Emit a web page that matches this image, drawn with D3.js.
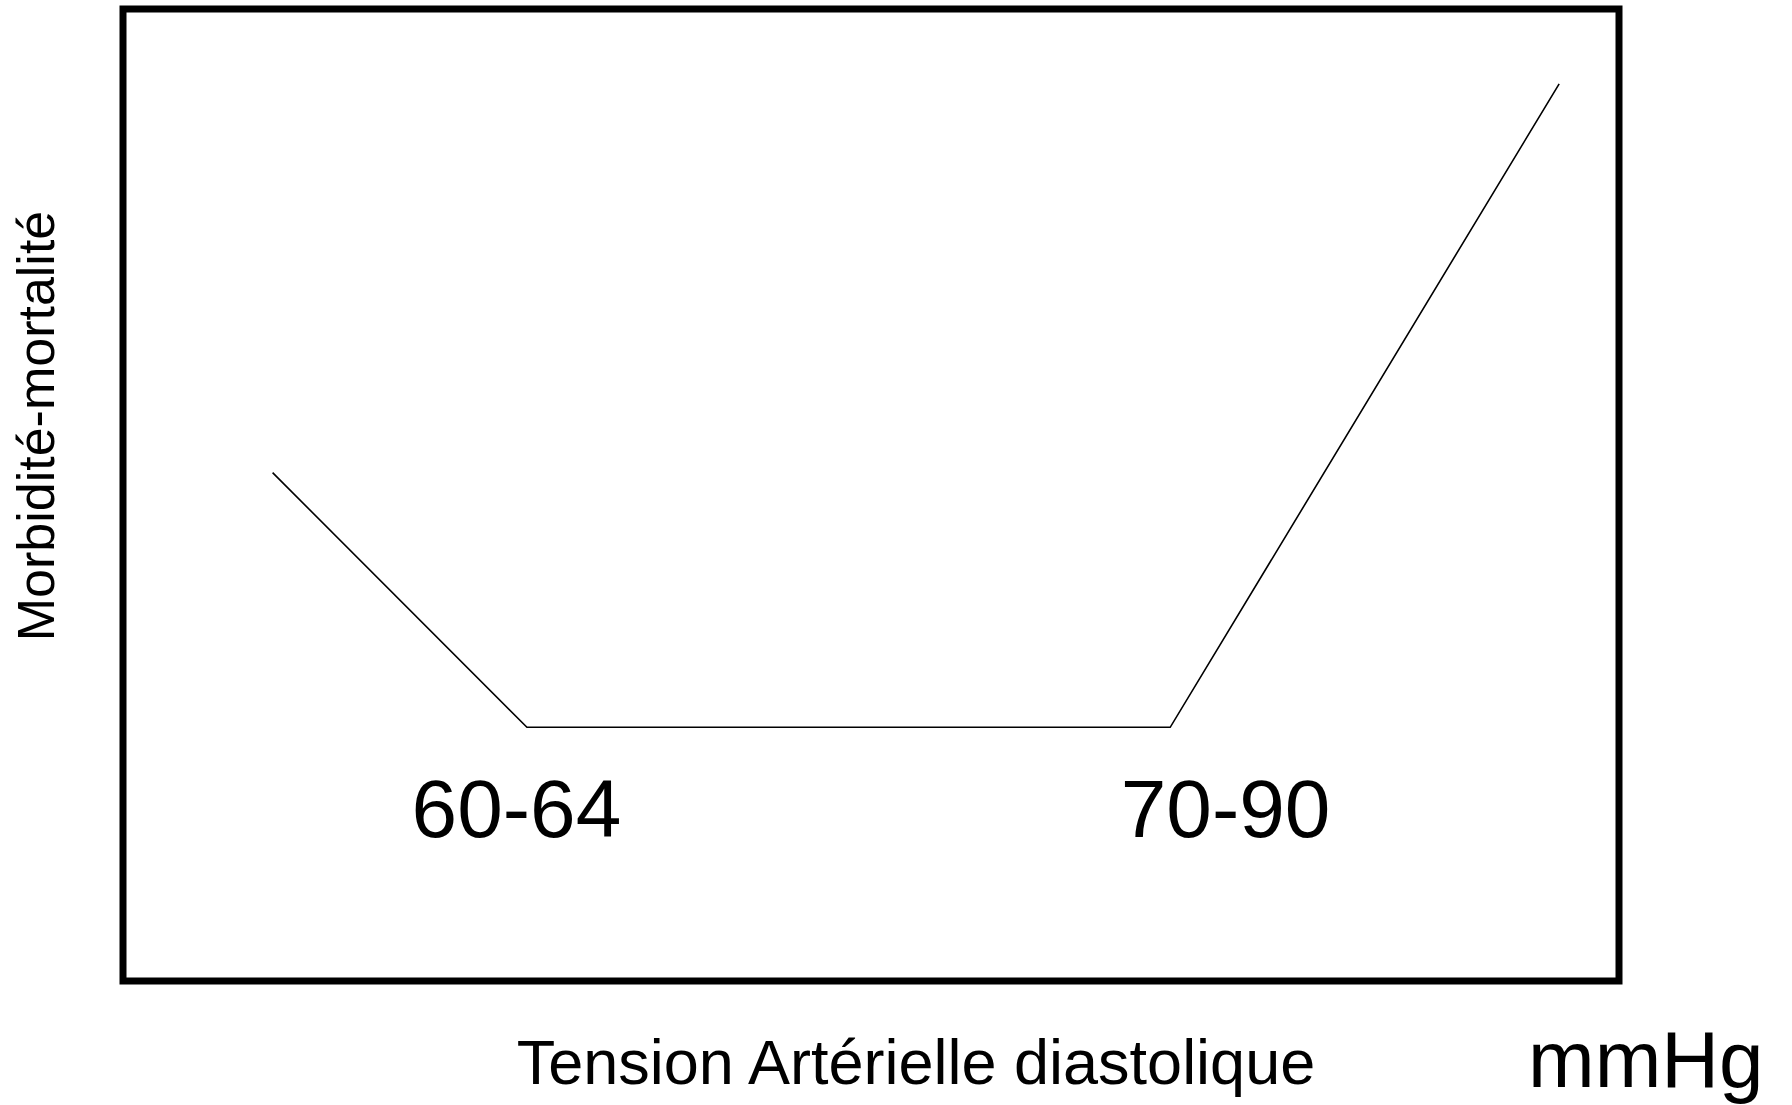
<!doctype html>
<html lang="fr">
<head>
  <meta charset="utf-8">
  <title>Morbidité-mortalité et tension artérielle diastolique</title>
  <script src="https://d3js.org/d3.v7.min.js"></script>
  <style>
    body { margin: 0; background: #fff; }
    text { font-family: "Liberation Sans", Arial, sans-serif; fill: #000; }
  </style>
</head>
<body>
<svg id="chart" width="1792" height="1105"></svg>

<script>
// schematic curve (arbitrary units 0-100 on both axes)
var curveX = [10, 27, 70, 96];
var curveY = [52.3, 26.1, 26.1, 92.3];

// range labels under the flat part
var rangeLabels = ["60-64", "70-90"];
var rangeX = [26.3, 73.7];

var xTitle = "Tension Artérielle diastolique";
var yTitle = "Morbidité-mortalité";
var unitLabel = "mmHg";

var svg = d3.select("#chart");

// frame box (stroke centres)
var frame = { left: 123, top: 9, right: 1619, bottom: 981 };

var x = d3.scaleLinear()
  .domain([0, 100])
  .range([frame.left, frame.right]);

var y = d3.scaleLinear()
  .domain([0, 100])
  .range([frame.bottom, frame.top]);

svg.append("rect")
  .attr("x", frame.left)
  .attr("y", frame.top)
  .attr("width", frame.right - frame.left)
  .attr("height", frame.bottom - frame.top)
  .attr("fill", "none")
  .attr("stroke", "#000")
  .attr("stroke-width", 7);

var pts = curveX.map(function(d, i) { return [d, curveY[i]]; });

var line = d3.line()
  .x(function(d) { return x(d[0]); })
  .y(function(d) { return y(d[1]); });

svg.append("path")
  .datum(pts)
  .attr("d", line)
  .attr("fill", "none")
  .attr("stroke", "#000")
  .attr("stroke-width", 1.6);

svg.selectAll(".range")
  .data(rangeLabels)
  .enter()
  .append("text")
    .attr("class", "range")
    .attr("x", function(d, i) { return x(rangeX[i]); })
    .attr("y", 837)
    .attr("text-anchor", "middle")
    .style("font-size", "82px")
    .text(function(d) { return d; });

svg.append("text")
  .attr("x", 916)
  .attr("y", 1084)
  .attr("text-anchor", "middle")
  .style("font-size", "63px")
  .text(xTitle);

svg.append("text")
  .attr("x", 1528)
  .attr("y", 1087)
  .style("font-size", "80px")
  .text(unitLabel);

svg.append("text")
  .attr("transform", "translate(54,426) rotate(-90)")
  .attr("text-anchor", "middle")
  .style("font-size", "52px")
  .text(yTitle);
</script>
</body>
</html>
